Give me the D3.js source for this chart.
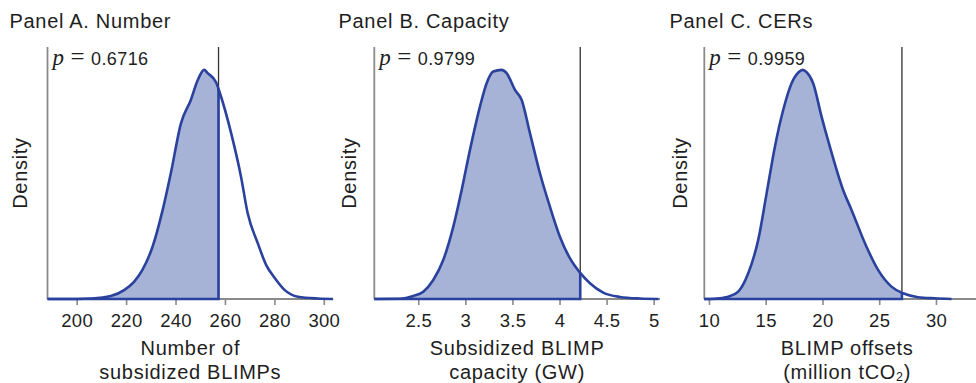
<!DOCTYPE html>
<html><head><meta charset="utf-8">
<script src="https://cdn.jsdelivr.net/npm/d3@7"></script>
<style>body{margin:0;background:#fff}svg{display:block}</style>
</head><body><svg id="chart" width="976" height="383"></svg>
<script>
// ---------- data ----------
const titles = ["Panel A. Number", "Panel B. Capacity", "Panel C. CERs"];
const pValues = ["0.6716", "0.9799", "0.9959"];
const thresholds = [257.4, 4.22, 27.0];
const xLabelsLine1 = ["Number of", "Subsidized BLIMP", "BLIMP offsets"];
const xLabelsLine2 = ["subsidized BLIMPs", "capacity (GW)", "(million tCO|2|)"];
const yLabel = "Density";

const domainA = [188.2, 303.8];
const domainB = [2.033, 5.067];
const domainC = [9.59, 34.76];
const yDomain = [0, 1.1];

const ticksA = [200, 220, 240, 260, 280, 300];
const tickLabelsA = ["200", "220", "240", "260", "280", "300"];
const ticksB = [2.5, 3, 3.5, 4, 4.5, 5];
const tickLabelsB = ["2.5", "3", "3.5", "4", "4.5", "5"];
const ticksC = [10, 15, 20, 25, 30];
const tickLabelsC = ["10", "15", "20", "25", "30"];

// density curves (relative density, peak = 1)
const densA_x = [188.2, 200, 205.7, 213.8, 219.2, 223.2, 226.6, 230.7, 234.8, 238.1, 242.2, 246.2, 249, 251.6, 253, 256.4, 258.4, 262.5, 266.5, 269.2, 273.3, 276.7, 280, 284.1, 289.5, 297.6, 303.7];
const densA_y = [0, 0, 0.002, 0.013, 0.039, 0.075, 0.127, 0.228, 0.389, 0.549, 0.767, 0.869, 0.956, 1.0, 0.986, 0.946, 0.884, 0.724, 0.534, 0.374, 0.243, 0.148, 0.094, 0.040, 0.010, 0.002, 0];
const densB_x = [2.033, 2.306, 2.447, 2.553, 2.659, 2.765, 2.872, 2.961, 3.049, 3.155, 3.226, 3.296, 3.385, 3.438, 3.527, 3.598, 3.686, 3.792, 3.898, 4.004, 4.11, 4.217, 4.323, 4.464, 4.641, 4.853, 5.05];
const densB_y = [0, 0.001, 0.013, 0.032, 0.083, 0.170, 0.316, 0.476, 0.651, 0.840, 0.942, 0.993, 1.0, 0.986, 0.913, 0.869, 0.724, 0.549, 0.403, 0.272, 0.178, 0.115, 0.069, 0.028, 0.009, 0.002, 0];
const densC_x = [9.59, 10.53, 11.7, 12.58, 13.46, 14.34, 15.08, 15.81, 16.54, 17.28, 17.9, 18.25, 18.6, 19.18, 19.92, 20.65, 21.82, 22.56, 23.88, 24.9, 26.08, 27.1, 28.42, 29.9, 31.37];
const densC_y = [0, 0.001, 0.01, 0.032, 0.112, 0.258, 0.461, 0.665, 0.825, 0.942, 0.99, 1.0, 0.99, 0.942, 0.796, 0.665, 0.476, 0.389, 0.228, 0.127, 0.054, 0.025, 0.008, 0.003, 0];

const panels = [
  {domain: domainA, ticks: ticksA, tickLabels: tickLabelsA, xs: densA_x, ys: densA_y},
  {domain: domainB, ticks: ticksB, tickLabels: tickLabelsB, xs: densB_x, ys: densB_y},
  {domain: domainC, ticks: ticksC, tickLabels: tickLabelsC, xs: densC_x, ys: densC_y}
];

// ---------- layout & style ----------
const lefts = [47.5, 374.3, 704.3];
const titleX = [9.5, 338.5, 669.5];
const yLabelX = [26.5, 355.5, 686.5];
const W = 285.7, TOP = 47, BASE = 299;
const SANS = "'Liberation Sans', Arial, Helvetica, sans-serif";
const SERIF = "'Liberation Serif', 'Times New Roman', serif";
const TXT = "#1e1e1e";
const BLUE = "#2a429d";
const FILL = "#a6b2d6";
const AXIS = "#8a8a8a";
const FS = 20, LS = 0.7;

const svg = d3.select("#chart");
const defs = svg.append("defs");
const y = d3.scaleLinear().domain(yDomain).range([BASE, TOP]);

panels.forEach((p, i) => {
  const L = lefts[i];
  const x = d3.scaleLinear().domain(p.domain).range([L, L + W]);
  const g = svg.append("g");
  const data = p.xs.map((v, j) => ({x: v, y: p.ys[j]}));
  const thr = thresholds[i];

  // title
  g.append("text").attr("x", titleX[i]).attr("y", 27.7)
    .attr("font-family", SANS).attr("font-size", FS).attr("letter-spacing", LS)
    .attr("fill", TXT).text(titles[i]);

  // y label
  g.append("text").attr("transform", `translate(${yLabelX[i]},${(TOP + BASE) / 2}) rotate(-90)`)
    .attr("text-anchor", "middle").attr("font-family", SANS).attr("font-size", FS)
    .attr("letter-spacing", LS).attr("fill", TXT).text(yLabel);

  // x label
  const cx = L + W / 2;
  g.append("text").attr("x", cx).attr("y", 355).attr("text-anchor", "middle")
    .attr("font-family", SANS).attr("font-size", FS).attr("letter-spacing", LS)
    .attr("fill", TXT).text(xLabelsLine1[i]);
  const t2 = g.append("text").attr("x", cx).attr("y", 378.5).attr("text-anchor", "middle")
    .attr("font-family", SANS).attr("font-size", FS).attr("letter-spacing", LS)
    .attr("fill", TXT);
  const parts = xLabelsLine2[i].split("|");
  parts.forEach((s, k) => {
    if (k % 2 === 1) {
      t2.append("tspan").attr("font-size", 12.5).attr("dy", 2.5).text(s);
    } else if (k > 0) {
      t2.append("tspan").attr("dy", -2.5).text(s);
    } else {
      t2.append("tspan").text(s);
    }
  });

  // axes lines
  g.append("line").attr("x1", L).attr("x2", L + W).attr("y1", BASE).attr("y2", BASE)
    .attr("stroke", AXIS).attr("stroke-width", 1.8);
  g.append("line").attr("x1", L).attr("x2", L).attr("y1", TOP).attr("y2", BASE)
    .attr("stroke", AXIS).attr("stroke-width", 1.8);

  // ticks
  const axis = d3.axisBottom(x).tickValues(p.ticks).tickSize(6).tickSizeOuter(0)
    .tickFormat((d, j) => p.tickLabels[j]);
  const ag = g.append("g").attr("transform", `translate(0,${BASE})`).call(axis);
  ag.select(".domain").remove();
  ag.selectAll(".tick line").attr("stroke", AXIS).attr("stroke-width", 1.6);
  ag.selectAll(".tick text").attr("y", 27.5).attr("dy", 0)
    .attr("font-family", SANS).attr("font-size", 18.5).attr("letter-spacing", 0.3)
    .attr("fill", TXT);

  // fill (clipped at threshold)
  const clipId = "clip" + i;
  defs.append("clipPath").attr("id", clipId).append("rect")
    .attr("x", L - 2).attr("y", 0).attr("width", x(thr) - (L - 2)).attr("height", BASE);
  const area = d3.area().x(d => x(d.x)).y0(y(0)).y1(d => y(d.y)).curve(d3.curveMonotoneX);
  g.append("path").datum(data).attr("d", area).attr("fill", FILL)
    .attr("clip-path", `url(#${clipId})`);

  // threshold line
  g.append("line").attr("x1", x(thr)).attr("x2", x(thr)).attr("y1", TOP).attr("y2", BASE)
    .attr("stroke", "#333").attr("stroke-width", 1.3);

  // curve
  const line = d3.line().x(d => x(d.x)).y(d => y(d.y)).curve(d3.curveMonotoneX);
  const curve = g.append("path").datum(data).attr("d", line).attr("fill", "none")
    .attr("stroke", BLUE).attr("stroke-width", 2.6).attr("stroke-linejoin", "round");

  // find curve y at threshold
  const node = curve.node();
  const total = node.getTotalLength();
  let lo = 0, hi = total;
  const tx = x(thr);
  for (let k = 0; k < 40; k++) {
    const mid = (lo + hi) / 2;
    if (node.getPointAtLength(mid).x < tx) lo = mid; else hi = mid;
  }
  const ty = node.getPointAtLength(lo).y;

  // blue outline of the shaded region (baseline + threshold edge)
  g.append("path").attr("d", d3.line()([[L, y(0)], [tx, y(0)], [tx, ty]]))
    .attr("fill", "none").attr("stroke", BLUE).attr("stroke-width", 2.6)
    .attr("stroke-linejoin", "miter");

  // p-value annotation
  const pt = g.append("g");
  pt.append("text").attr("x", L + 5).attr("y", 65).attr("font-family", SERIF)
    .attr("font-style", "italic").attr("font-size", 23).attr("fill", TXT).text("p");
  pt.append("text").attr("x", L + 23).attr("y", 65).attr("font-family", SERIF)
    .attr("font-size", 25).attr("fill", TXT).text("=");
  pt.append("text").attr("x", L + 43.5).attr("y", 65).attr("font-family", SANS)
    .attr("font-size", 18).attr("letter-spacing", 0.4).attr("fill", TXT).text(pValues[i]);
});
</script>
</body></html>
